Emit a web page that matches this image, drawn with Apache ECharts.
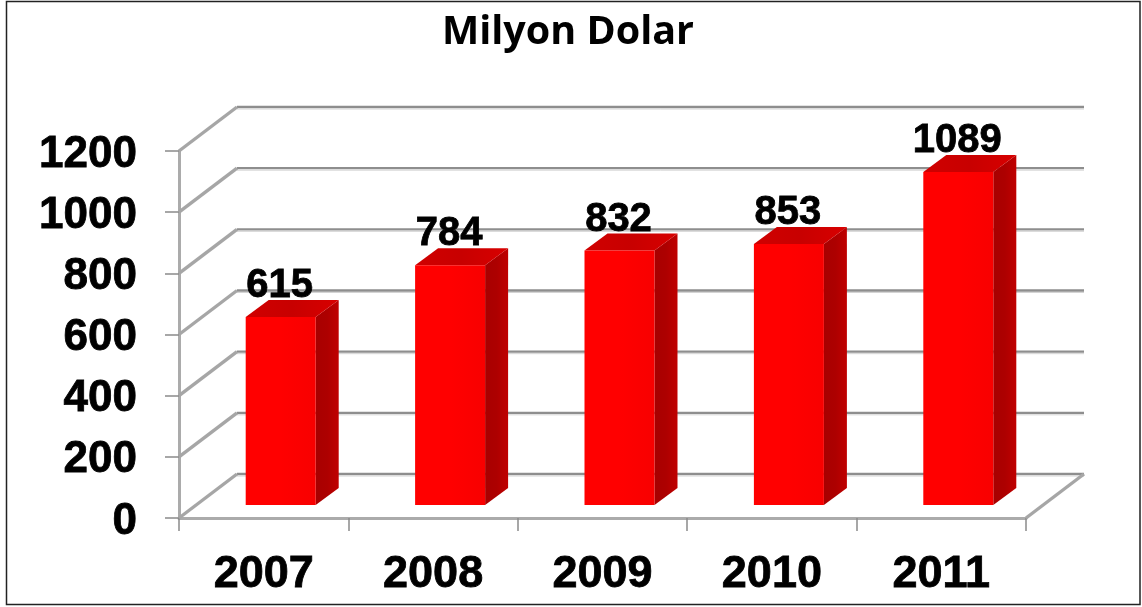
<!DOCTYPE html>
<html>
<head>
<meta charset="utf-8">
<style>html,body{margin:0;padding:0;background:#fff}#c{width:1142px;height:607px}</style>
<script src="https://cdn.jsdelivr.net/npm/echarts@6/dist/echarts.min.js"></script>
</head>
<body>
<div id="c"></div>
<script>
const titleText = 'Milyon Dolar';
const categories = ['2007', '2008', '2009', '2010', '2011'];
const values = [615, 784, 832, 853, 1089];
const yTicks = [0, 200, 400, 600, 800, 1000, 1200];

const chart = echarts.init(document.getElementById('c'), null, {renderer: 'canvas'});
const wallDX = 58, wallDY = 44;      // depth of the 3D box
const barInsetX = 17, barInsetY = 13; // bar's front plane offset from the band centre / floor
const barDX = 23, barDY = 17;        // bar's own depth
const barW = 70;

function renderWall(params, api) {
  const v = api.value(0);
  const cs = params.coordSys;
  const y = api.coord([0, v])[1];
  const x0 = cs.x, x1 = cs.x + cs.width;
  const children = [
    {type: 'line', shape: {x1: x0 + wallDX, y1: y - wallDY, x2: x1 + wallDX, y2: y - wallDY},
     style: {stroke: '#8e8e8e', lineWidth: 2.4}},
    {type: 'line', shape: {x1: x0 + wallDX, y1: y - wallDY + 2, x2: x1 + wallDX, y2: y - wallDY + 2},
     style: {stroke: '#d4d4d4', lineWidth: 1}},
    {type: 'line', shape: {x1: x0, y1: y, x2: x0 + wallDX, y2: y - wallDY},
     style: {stroke: '#a6a6a6', lineWidth: 3.4}}
  ];
  if (v === 0) {
    children.push({type: 'line', shape: {x1: x1, y1: y, x2: x1 + wallDX, y2: y - wallDY},
      style: {stroke: '#a6a6a6', lineWidth: 3.4}});
  }
  return {type: 'group', children};
}

function renderBar(params, api) {
  const idx = api.value(0), val = api.value(1);
  const top = api.coord([idx, val]);
  const base = api.coord([idx, 0]);
  const xL = top[0] - barW / 2 + barInsetX;
  const xR = xL + barW;
  const yT = top[1] - barInsetY, yB = base[1] - barInsetY;
  const grad = (a, b, c) => new echarts.graphic.LinearGradient(0, 0, 1, 0, [
    {offset: 0, color: a}, {offset: 0.5, color: b}, {offset: 1, color: c}]);
  return {type: 'group', children: [
    {type: 'polygon', shape: {points: [[xR, yT], [xR + barDX, yT - barDY], [xR + barDX, yB - barDY], [xR, yB]]},
     style: {fill: grad('#a80000', '#ad0000', '#c00000')}},
    {type: 'polygon', shape: {points: [[xL, yT], [xL + barDX, yT - barDY], [xR + barDX, yT - barDY], [xR, yT]]},
     style: {fill: grad('#d00000', '#c80000', '#d80000')}},
    {type: 'rect', shape: {x: xL, y: yT, width: barW, height: yB - yT},
     style: {fill: grad('#ff0000', '#ff0000', '#f80000')}},
    {type: 'text', x: xL + barW / 2 - 1, y: yT - 11,
     style: {text: String(val), fill: '#000', font: 'bold 40px "Liberation Sans", Arial, sans-serif',
             align: 'center', verticalAlign: 'bottom', stroke: '#000', lineWidth: 0.8}, z2: 100}
  ]};
}

const labelFont = {fontFamily: '"Liberation Sans", Arial, sans-serif', fontWeight: 'bold', color: '#000',
                   textBorderColor: '#000', textBorderWidth: 0.8};

chart.setOption({
  animation: false,
  backgroundColor: '#fff',
  title: {
    text: titleText, left: 563, top: 8, textAlign: 'center',
    textStyle: {fontFamily: '"Open Sans", "Noto Sans", sans-serif', fontWeight: 'bold', fontSize: 39.5, color: '#000'}
  },
  grid: {left: 179, top: 151, width: 847, height: 367, containLabel: false},
  xAxis: {
    type: 'category', data: categories,
    axisLine: {show: true, lineStyle: {color: '#ababab', width: 3}},
    axisTick: {show: true, alignWithLabel: false, length: 13, lineStyle: {color: '#8a8a8a', width: 1.5}},
    axisLabel: Object.assign({margin: 34, fontSize: 45}, labelFont)
  },
  yAxis: {
    type: 'value', min: 0, max: 1200, interval: 200,
    axisLine: {show: true, lineStyle: {color: '#ababab', width: 3}},
    axisTick: {show: true, length: 14, lineStyle: {color: '#8a8a8a', width: 1.5}},
    splitLine: {show: false},
    axisLabel: Object.assign({margin: 42, fontSize: 44, formatter: v => '{a|' + v + '}',
                rich: {a: Object.assign({fontSize: 44, padding: [7, 0, 0, 0]}, labelFont)}}, labelFont)
  },
  series: [
    {type: 'custom', renderItem: renderWall, data: yTicks.map(v => [v]), encode: {y: 0}, z: 1, silent: true},
    {type: 'custom', renderItem: renderBar, data: values.map((v, i) => [i, v]), encode: {x: 0, y: 1}, z: 3, silent: true}
  ],
  graphic: [{
    type: 'rect', silent: true, z: 0,
    shape: {x: 6.5, y: 1.5, width: 1133.5, height: 603},
    style: {stroke: '#222', lineWidth: 1.5, fill: null}
  }]
});
</script>
</body>
</html>
